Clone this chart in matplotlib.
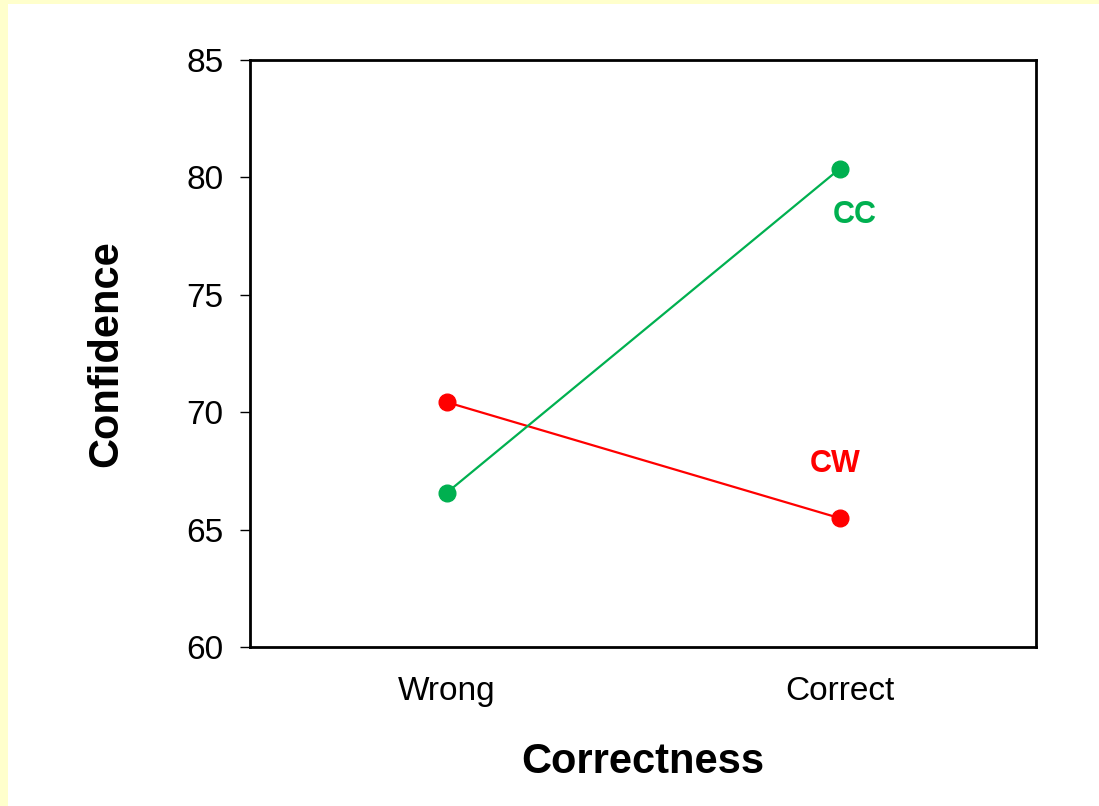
import matplotlib
matplotlib.use("Agg")
import matplotlib.pyplot as plt
from matplotlib.patches import Rectangle

categories = ["Wrong", "Correct"]
cc_values = [66.56, 80.36]
cw_values = [70.43, 65.49]
series_names = ["CC", "CW"]
yticks = [60, 65, 70, 75, 80, 85]

plt.rcParams['font.family'] = ['Liberation Sans', 'DejaVu Sans']

fig = plt.figure(figsize=(10.99, 8.06), dpi=100)
fig.patch.set_facecolor("white")
yellow = "#FFFFCC"
fig.add_artist(Rectangle((0, 0), 8/1099, 1, transform=fig.transFigure, color=yellow, lw=0, zorder=-1))
fig.add_artist(Rectangle((0, 1-3.5/806), 1, 3.5/806, transform=fig.transFigure, color=yellow, lw=0, zorder=-1))

ax = fig.add_axes([250/1099, 1-647/806, 786/1099, 587/806])
x = list(range(len(categories)))
green = "#00B050"
red = "#FF0000"
ax.plot(x, cw_values, color=red, lw=1.6, marker="o", ms=12, zorder=3)
ax.plot(x, cc_values, color=green, lw=1.6, marker="o", ms=12, zorder=3)

ax.annotate(series_names[0], (x[1], cc_values[1]), xytext=(11, -33), textcoords="offset points",
            ha="center", va="center", color=green, fontsize=22, fontweight="bold")
ax.annotate(series_names[1], (x[1], cw_values[1]), xytext=(-3, 39), textcoords="offset points",
            ha="center", va="center", color=red, fontsize=22, fontweight="bold")

ax.set_xlim(-0.5, 1.5)
ax.set_ylim(60, 85)
ax.set_yticks(yticks)
ax.set_xticks(x)
ax.set_xticklabels(categories)
ax.tick_params(axis="y", direction="out", length=7, width=1, labelsize=24, pad=12)
ax.tick_params(axis="x", length=0, labelsize=24, pad=21)
for s in ax.spines.values():
    s.set_linewidth(2)
    s.set_color("black")

ax.set_xlabel("Correctness", fontsize=30, fontweight="bold", labelpad=25)
ax.set_ylabel("Confidence", fontsize=30, fontweight="bold", labelpad=43)

fig.savefig("out.png", dpi=100, facecolor=fig.get_facecolor())
